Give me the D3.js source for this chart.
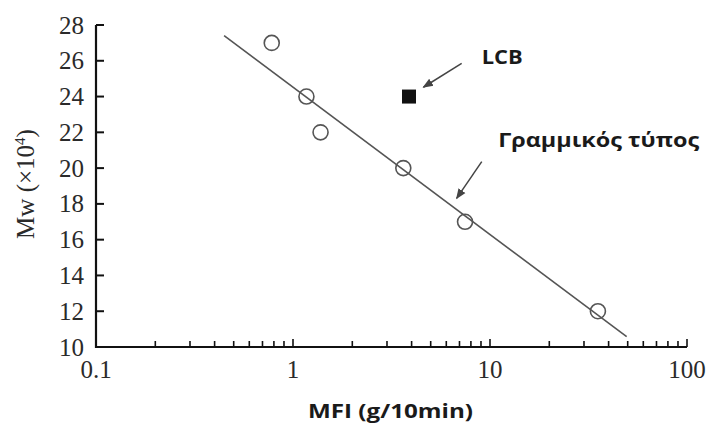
<!DOCTYPE html>
<html>
<head>
<meta charset="utf-8">
<style>
body { margin: 0; background: #fff; }
.tick-label { font-family: "Liberation Serif", serif; font-size: 25px; fill: #2a2a2a; }
.note { font-family: "Open Sans", sans-serif; font-weight: bold; fill: #1a1a1a; }
</style>
</head>
<body>
<svg width="708" height="424"></svg>
<script src="https://d3js.org/d3.v7.min.js"></script>
<script>
// open circles: linear grades
var mfi = [0.78, 1.17, 1.38, 3.63, 7.47, 35.3];
var mw = [27, 24, 22, 20, 17, 12];
// filled square: LCB grade
var lcbMfi = [3.88];
var lcbMw = [24];
// fitted line end points
var fitMfi = [0.447, 49.4];
var fitMw = [27.4, 10.58];
var xTicks = [0.1, 1, 10, 100];
var xTickLabels = ["0.1", "1", "10", "100"];
var yTicks = [10, 12, 14, 16, 18, 20, 22, 24, 26, 28];

var svg = d3.select("svg");
var mLeft = 96, mRight = 687, mTop = 25, mBottom = 347;

var x = d3.scaleLog().domain([0.1, 100]).range([mLeft, mRight]);
var y = d3.scaleLinear().domain([10, 28]).range([mBottom, mTop]);

// minor ticks on the log axis
var minor = [];
[0.1, 1, 10].forEach(function(d) {
  for (var k = 2; k <= 9; k++) minor.push(d * k);
});

var axisColor = "#111";

svg.append("g").selectAll("line")
  .data(minor.concat(xTicks))
  .enter().append("line")
    .attr("x1", function(d) { return x(d); })
    .attr("x2", function(d) { return x(d); })
    .attr("y1", mBottom)
    .attr("y2", function(d) { return xTicks.indexOf(d) >= 0 ? mBottom - 8 : mBottom - 6; })
    .attr("stroke", axisColor)
    .attr("stroke-width", 1.6);

svg.append("g").selectAll("line")
  .data(yTicks)
  .enter().append("line")
    .attr("x1", mLeft)
    .attr("x2", mLeft + 8)
    .attr("y1", function(d) { return y(d); })
    .attr("y2", function(d) { return y(d); })
    .attr("stroke", axisColor)
    .attr("stroke-width", 2);

// axis lines
svg.append("path")
  .attr("d", "M" + mLeft + "," + mTop + "V" + mBottom + "H" + mRight)
  .attr("fill", "none")
  .attr("stroke", axisColor)
  .attr("stroke-width", 2.2);

svg.append("g").selectAll("text")
  .data(yTicks)
  .enter().append("text")
    .attr("class", "tick-label")
    .attr("x", 84)
    .attr("y", function(d) { return y(d); })
    .attr("dy", "0.34em")
    .attr("text-anchor", "end")
    .text(function(d) { return d; });

svg.append("g").selectAll("text")
  .data(xTicks)
  .enter().append("text")
    .attr("class", "tick-label")
    .attr("x", function(d) { return x(d); })
    .attr("y", 378)
    .attr("text-anchor", "middle")
    .text(function(d, i) { return xTickLabels[i]; });

// axis titles
svg.append("text")
  .attr("transform", "translate(34,184) rotate(-90)")
  .attr("text-anchor", "middle")
  .attr("font-family", "Liberation Serif, serif")
  .attr("font-size", 25)
  .attr("fill", "#2a2a2a")
  .html("Mw (×10<tspan dy='-9' font-size='15'>4</tspan><tspan dy='9'>)</tspan>");

svg.append("text")
  .attr("class", "note")
  .attr("x", 308)
  .attr("y", 418)
  .attr("font-size", 20)
  .attr("textLength", 165)
  .attr("lengthAdjust", "spacingAndGlyphs")
  .text("MFI (g/10min)");

// fitted line
svg.append("line")
  .attr("x1", x(fitMfi[0])).attr("y1", y(fitMw[0]))
  .attr("x2", x(fitMfi[1])).attr("y2", y(fitMw[1]))
  .attr("stroke", "#555")
  .attr("stroke-width", 1.6);

svg.append("g").selectAll("circle")
  .data(mfi)
  .enter().append("circle")
    .attr("cx", function(d) { return x(d); })
    .attr("cy", function(d, i) { return y(mw[i]); })
    .attr("r", 7.5)
    .attr("fill", "none")
    .attr("stroke", "#555")
    .attr("stroke-width", 1.6);

svg.append("g").selectAll("rect")
  .data(lcbMfi)
  .enter().append("rect")
    .attr("x", function(d) { return x(d) - 7; })
    .attr("y", function(d, i) { return y(lcbMw[i]) - 7; })
    .attr("width", 14)
    .attr("height", 14)
    .attr("fill", "#111");

// annotations
svg.append("defs").append("marker")
  .attr("id", "head")
  .attr("viewBox", "0 0 10 10")
  .attr("refX", 9).attr("refY", 5)
  .attr("markerWidth", 7).attr("markerHeight", 7)
  .attr("orient", "auto")
  .append("path")
    .attr("d", "M0,1L10,5L0,9Z")
    .attr("fill", "#444");

var arrows = [
  { from: [7.18, 25.86], to: [4.59, 24.52] },
  { from: [9.08, 20.36], to: [6.77, 18.31] }
];
svg.append("g").selectAll("line")
  .data(arrows)
  .enter().append("line")
    .attr("x1", function(d) { return x(d.from[0]); })
    .attr("y1", function(d) { return y(d.from[1]); })
    .attr("x2", function(d) { return x(d.to[0]); })
    .attr("y2", function(d) { return y(d.to[1]); })
    .attr("stroke", "#444")
    .attr("stroke-width", 1.5)
    .attr("marker-end", "url(#head)");

svg.append("text")
  .attr("class", "note")
  .attr("x", x(9.08))
  .attr("y", y(25.8))
  .attr("font-size", 19)
  .attr("textLength", 41)
  .attr("lengthAdjust", "spacingAndGlyphs")
  .text("LCB");

svg.append("text")
  .attr("class", "note")
  .attr("x", x(11.0))
  .attr("y", y(21.2))
  .attr("font-size", 19)
  .attr("textLength", 201)
  .attr("lengthAdjust", "spacingAndGlyphs")
  .text("Γραμμικός τύπος");
</script>
</body>
</html>
